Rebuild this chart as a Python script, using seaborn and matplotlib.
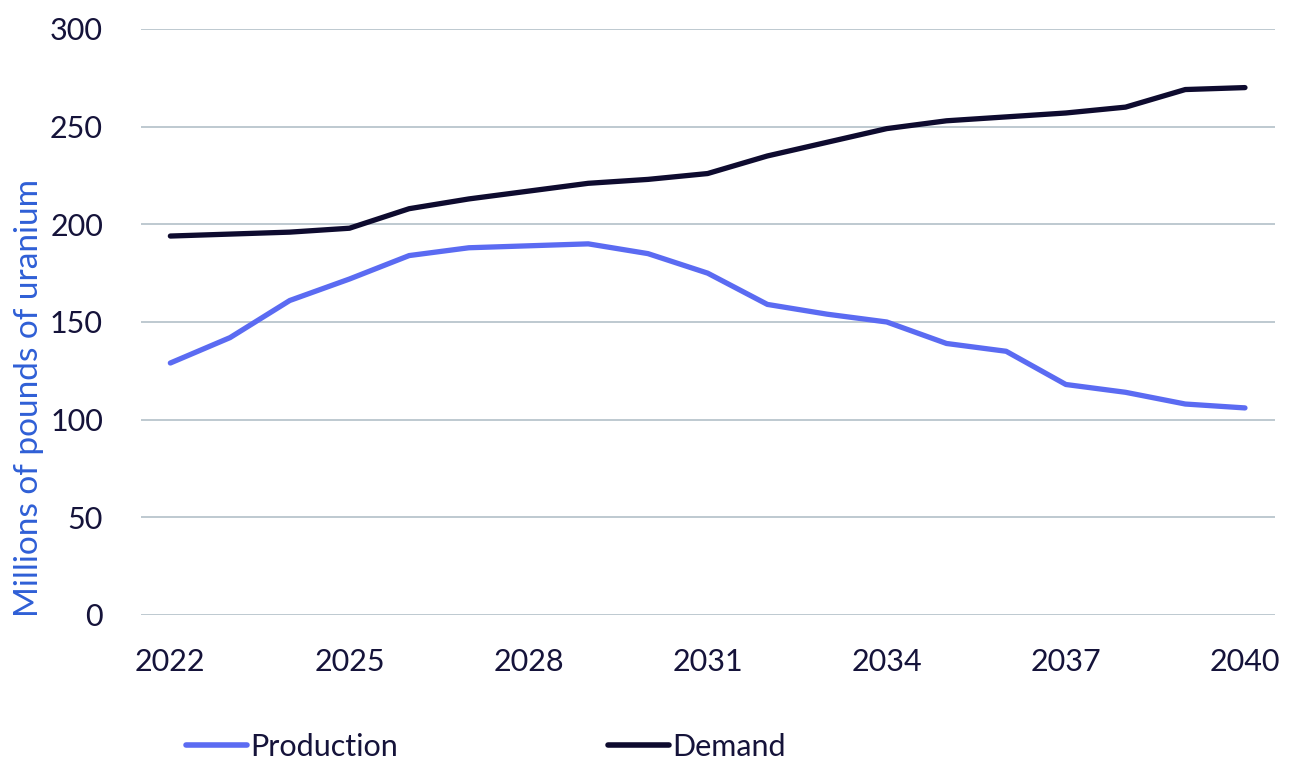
import pandas as pd
import matplotlib.pyplot as plt
import seaborn as sns

# data
years = list(range(2022, 2041))
production = [129, 142, 161, 172, 184, 188, 189, 190, 185, 175, 159, 154, 150, 139, 135, 118, 114, 108, 106]
demand = [194, 195, 196, 198, 208, 213, 217, 221, 223, 226, 235, 242, 249, 253, 255, 257, 260, 269, 270]
series_names = ["Production", "Demand"]
xtick_years = [2022, 2025, 2028, 2031, 2034, 2037, 2040]
yticks = [0, 50, 100, 150, 200, 250, 300]

df = pd.DataFrame({
    "year": years * 2,
    "value": production + demand,
    "series": [series_names[0]] * len(years) + [series_names[1]] * len(years),
})

sns.set_theme(style="white")
plt.rcParams["font.family"] = ["Lato", "DejaVu Sans"]

text_color = "#15133a"
palette = {"Production": "#5b6bf2", "Demand": "#0e0b2f"}

fig, ax = plt.subplots(figsize=(12.89, 7.63), dpi=100)
fig.subplots_adjust(left=0.109, right=0.989, top=0.962, bottom=0.194)

sns.lineplot(data=df, x="year", y="value", hue="series", palette=palette,
             linewidth=3.8, ax=ax, legend=False)

ax.set_xlim(2021.5, 2040.5)
ax.set_ylim(0, 300)
ax.set_xticks(xtick_years)
ax.set_yticks(yticks)
ax.yaxis.grid(True, color="#b9c5cd", linewidth=1.3)
ax.set_axisbelow(True)
for s in ax.spines.values():
    s.set_visible(False)
ax.tick_params(axis="both", length=0, labelsize=22, colors=text_color)
ax.tick_params(axis="x", pad=24)
ax.tick_params(axis="y", pad=27)
ax.set_xlabel("")
ax.set_ylabel("Millions of pounds of uranium", fontsize=24, color="#2f5fd6")
ax.yaxis.set_label_coords(-0.085, 0.37)

handles = [plt.Line2D([], [], color=palette[n], linewidth=4, solid_capstyle="round") for n in series_names]
fig.legend(handles, series_names, loc="center left", bbox_to_anchor=(0.144, 0.021),
           ncol=2, frameon=False, fontsize=22, handlelength=2.0, handletextpad=0.1,
           columnspacing=6.9, labelcolor=text_color, borderpad=0, borderaxespad=0)

fig.savefig("out.png", dpi=100)
